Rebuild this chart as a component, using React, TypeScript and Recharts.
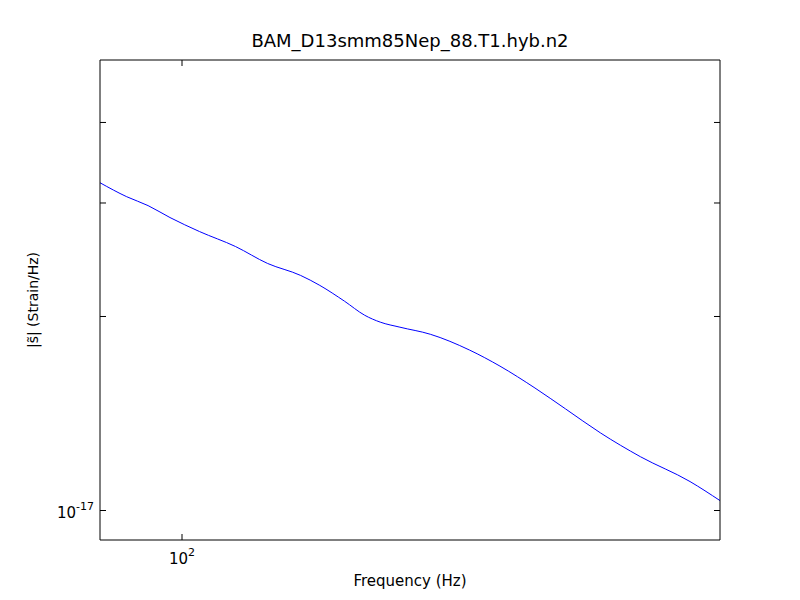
import { LineChart, Line, XAxis, YAxis } from "recharts";

const freq = [95.0, 96.6, 97.9, 99.25, 101.1, 103.4, 105.5, 107.7, 109.0, 110.7, 112.1, 113.2, 114.6, 116.8, 119.7, 122.0, 124.7, 127.1, 129.9, 133.2, 137.4, 140.0];
const strain = [3.225, 3.068, 2.972, 2.848, 2.709, 2.568, 2.417, 2.316, 2.235, 2.112, 2.009, 1.96, 1.925, 1.877, 1.774, 1.675, 1.549, 1.438, 1.32, 1.212, 1.109, 1.036];
const xTicks = [100];
const yTicks = [1e-17, 2e-17, 3e-17, 4e-17];

const data = freq.map((f, i) => ({ f, s: strain[i] * 1e-17 }));
const font = "DejaVu Sans, sans-serif";

function Tick(props: any) {
  const { x, y, payload, side } = props;
  const v = payload.value;
  const len = 6;
  let dx = 0, dy = 0;
  if (side === "left") dx = len;
  if (side === "right") dx = -len;
  if (side === "bottom") dy = -len;
  if (side === "top") dy = len;
  const line = <line x1={x} y1={y} x2={x + dx} y2={y + dy} stroke="#000" strokeWidth={1} />;
  let label = null;
  if (side === "left" && v === 1e-17) {
    label = (
      <text x={x - 6} y={y + 7} textAnchor="end" fontFamily={font} fontSize={15} fill="#000">
        10<tspan dy={-8} fontSize={11}>-17</tspan>
      </text>
    );
  }
  if (side === "bottom" && v === 100) {
    label = (
      <text x={x} y={y + 24} textAnchor="middle" fontFamily={font} fontSize={15} fill="#000">
        10<tspan dy={-8} fontSize={11}>2</tspan>
      </text>
    );
  }
  return <g>{line}{label}</g>;
}

export default function App() {
  return (
    <div style={{ position: "absolute", left: 0, top: 0, width: 800, height: 600, background: "#fff" }}>
      <div style={{ position: "absolute", top: 30, left: 100, width: 620, textAlign: "center", fontFamily: font, fontSize: 18 }}>
        BAM_D13smm85Nep_88.T1.hyb.n2
      </div>
      <div style={{ position: "absolute", top: 572, left: 100, width: 620, textAlign: "center", fontFamily: font, fontSize: 15 }}>
        Frequency (Hz)
      </div>
      <div style={{ position: "absolute", left: 33, top: 300, transform: "translate(-50%,-50%) rotate(-90deg)", whiteSpace: "nowrap", fontFamily: font, fontSize: 14 }}>
        |s̃| (Strain/Hz)
      </div>
      <LineChart width={800} height={600} data={data} margin={{ top: 0, right: 0, bottom: 0, left: 0 }}>
        <XAxis xAxisId="b" dataKey="f" type="number" scale="log" domain={[95, 140]} ticks={xTicks} orientation="bottom" height={60} tickSize={0} tickMargin={0} tickLine={false} axisLine={{ stroke: "#000" }} tick={<Tick side="bottom" />} allowDataOverflow />
        <XAxis xAxisId="t" dataKey="f" type="number" scale="log" domain={[95, 140]} ticks={xTicks} orientation="top" height={60} tickSize={0} tickMargin={0} tickLine={false} axisLine={{ stroke: "#000" }} tick={<Tick side="top" />} allowDataOverflow />
        <YAxis yAxisId="l" type="number" scale="log" domain={[9e-18, 5e-17]} ticks={yTicks} orientation="left" width={100} tickSize={0} tickMargin={0} tickLine={false} axisLine={{ stroke: "#000" }} tick={<Tick side="left" />} allowDataOverflow />
        <YAxis yAxisId="r" type="number" scale="log" domain={[9e-18, 5e-17]} ticks={yTicks} orientation="right" width={80} tickSize={0} tickMargin={0} tickLine={false} axisLine={{ stroke: "#000" }} tick={<Tick side="right" />} allowDataOverflow />
        <Line xAxisId="b" yAxisId="l" dataKey="s" stroke="#0000ff" strokeWidth={1} dot={false} type="monotone" isAnimationActive={false} />
      </LineChart>
    </div>
  );
}
